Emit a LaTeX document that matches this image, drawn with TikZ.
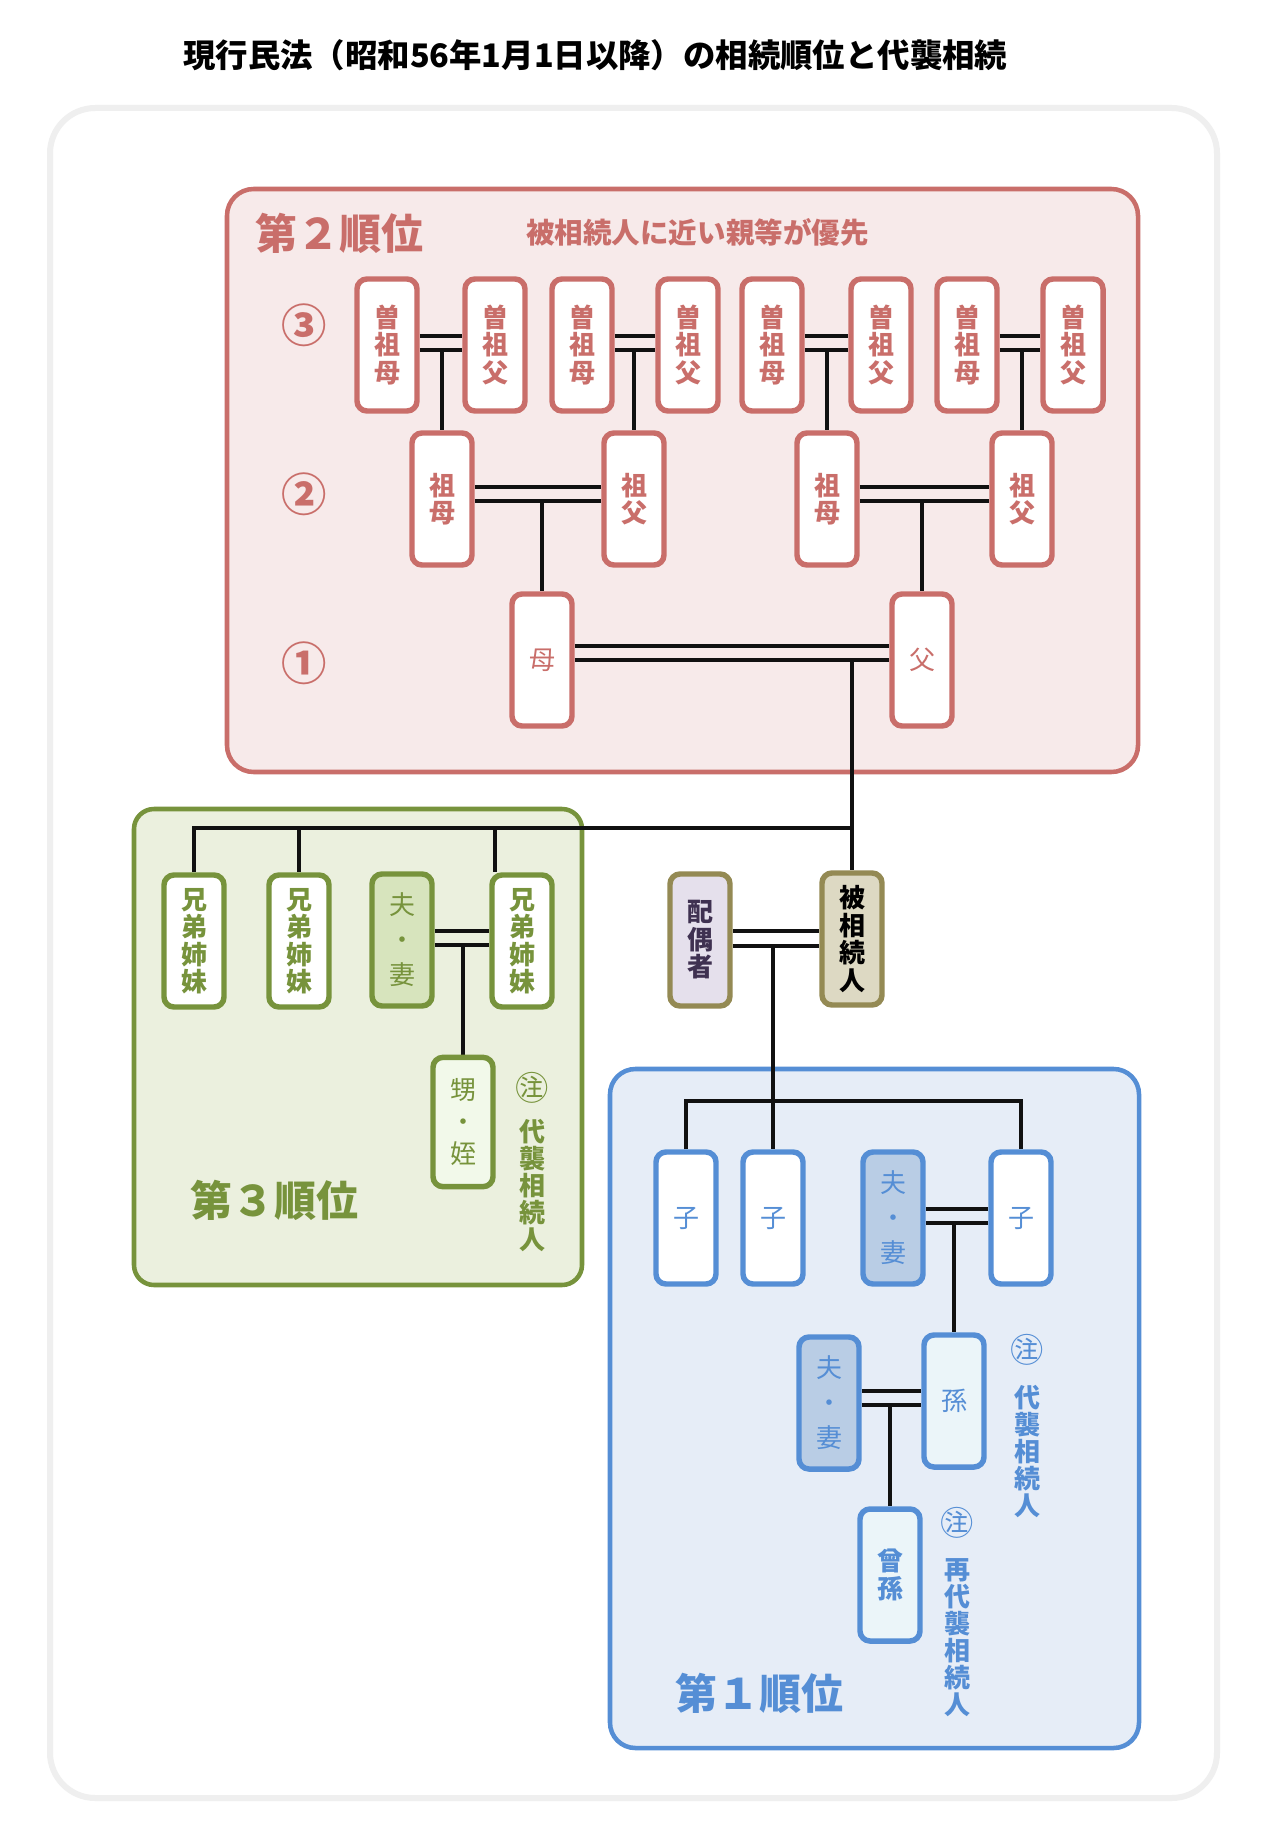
\documentclass[tikz,border=0pt]{standalone}
\usepackage{fontspec}
\setmainfont{Noto Sans CJK JP}
\usetikzlibrary{calc}
\definecolor{rc}{HTML}{C96E6A}
\definecolor{rfill}{HTML}{F7EAEA}
\definecolor{gc}{HTML}{77933C}
\definecolor{gfill}{HTML}{EBF0DE}
\definecolor{gsp}{HTML}{D7E4BD}
\definecolor{gnn}{HTML}{F2F9EA}
\definecolor{bc}{HTML}{558ED5}
\definecolor{bfill}{HTML}{E6EDF7}
\definecolor{bsp}{HTML}{B9CDE5}
\definecolor{bgc}{HTML}{EBF5F9}
\definecolor{kc}{HTML}{948A54}
\definecolor{kfill}{HTML}{DDD9C3}
\definecolor{pfill}{HTML}{E5E0EC}
\definecolor{ptext}{HTML}{3F3151}
\definecolor{outergray}{HTML}{EFEFEF}
\definecolor{ln}{HTML}{111111}
\pgfdeclarelayer{background}
\pgfdeclarelayer{links}
\pgfsetlayers{background,links,main}
\newcommand\marrylines[4]{%
  \draw[link] (#1.east |- 0,#3) -- (#2.west |- 0,#3);
  \draw[link] (#1.east |- 0,#4) -- (#2.west |- 0,#4);}
\begin{document}
\begin{tikzpicture}[x=0.75pt,y=-0.75pt,
  box/.style={draw, rounded corners=7.5pt, line width=4.1pt, minimum width=45pt,
    minimum height=99pt, inner sep=0pt, align=center, fill=white},
  tb/.style={font=\bfseries\fontsize{19.5pt}{20.6pt}\selectfont},
  tr/.style={font=\fontsize{19.5pt}{20.6pt}\selectfont},
  tsp/.style={font=\fontsize{19.5pt}{26.25pt}\selectfont},
  redbox/.style={box, draw=rc, text=rc, tb},
  greenbox/.style={box, draw=gc, text=gc},
  bluebox/.style={box, draw=bc, text=bc},
  link/.style={draw=ln, line width=2.6pt},
  panel/.style={line width=3.4pt},
  biglabel/.style={font=\bfseries\fontsize{31.5pt}{33pt}\selectfont, anchor=west, inner sep=0pt},
  circnum/.style={font=\bfseries\fontsize{34pt}{36pt}\selectfont, text=rc, inner sep=0pt},
  notemark/.style={font=\fontsize{25pt}{26pt}\selectfont, inner sep=0pt},
  vnote/.style={font=\bfseries\fontsize{19.5pt}{20.25pt}\selectfont, align=center, inner sep=0pt},
]
\useasboundingbox (0,0) rectangle (1260,1844);

\begin{pgfonlayer}{background}
\fill[white] (0,0) rectangle (1260,1844);
\draw[outergray, line width=4.5pt, rounded corners=34pt] (50,108) rectangle (1217,1798);
\draw[panel, draw=rc, fill=rfill, rounded corners=20pt] (227,189) rectangle (1138,772);
\draw[panel, draw=gc, fill=gfill, rounded corners=15pt] (134,809) rectangle (582,1285);
\draw[panel, draw=bc, fill=bfill, rounded corners=19pt] (610,1069) rectangle (1139,1748);
\end{pgfonlayer}

% title
\node[font=\bfseries\fontsize{24.3pt}{25pt}\selectfont, anchor=west, inner sep=0pt] (title) at (183,55)
  {現行民法（昭和56年1月1日以降）の相続順位と代襲相続};

% second order panel
\node[biglabel, text=rc] (lab2) at (255,233) {第２順位};
\node[font=\bfseries\fontsize{21.4pt}{22pt}\selectfont, text=rc, anchor=west, inner sep=0pt] (note2) at (526,232) {被相続人に近い親等が優先};
\node[circnum] (c3) at (304,325) {③};
\node[circnum] (c2) at (304,494) {②};
\node[circnum] (c1) at (304,663) {①};

\node[redbox] (r3a) at (387,345) {曽\\祖\\母};
\node[redbox] (r3b) at (495,345) {曽\\祖\\父};
\node[redbox] (r3c) at (582,345) {曽\\祖\\母};
\node[redbox] (r3d) at (688,345) {曽\\祖\\父};
\node[redbox] (r3e) at (772,345) {曽\\祖\\母};
\node[redbox] (r3f) at (881,345) {曽\\祖\\父};
\node[redbox] (r3g) at (967,345) {曽\\祖\\母};
\node[redbox] (r3h) at (1073,345) {曽\\祖\\父};

\node[redbox] (r2a) at (442,499) {祖\\母};
\node[redbox] (r2b) at (634,499) {祖\\父};
\node[redbox] (r2c) at (827,499) {祖\\母};
\node[redbox] (r2d) at (1022,499) {祖\\父};

\node[redbox, tr] (r1a) at (542,660) {母};
\node[redbox, tr] (r1b) at (922,660) {父};

% decedent and spouse
\node[box, draw=kc, fill=kfill, text=black, tb] (hi) at (852,939) {被\\相\\続\\人};
\node[box, draw=kc, fill=pfill, text=ptext, tb] (hs) at (700,940) {配\\偶\\者};

% third order panel
\node[greenbox, tb] (s1) at (194,941) {兄\\弟\\姉\\妹};
\node[greenbox, tb] (s2) at (299,941) {兄\\弟\\姉\\妹};
\node[greenbox, fill=gsp, tsp] (gw) at (402,940) {夫\\・\\妻};
\node[greenbox, tb] (s3) at (522,941) {兄\\弟\\姉\\妹};
\node[greenbox, fill=gnn, font=\fontsize{19.5pt}{23.8pt}\selectfont, minimum height=97pt] (nn) at (463,1122) {甥\\・\\姪};
\node[biglabel, text=gc] (lab3) at (190,1200) {第３順位};
\node[notemark, text=gc] (n3) at (532,1088) {㊟};
\node[vnote, text=gc] (t3) at (532,1186) {代\\襲\\相\\続\\人};

% first order panel
\node[bluebox, tr] (k1) at (686,1218) {子};
\node[bluebox, tr] (k2) at (773,1218) {子};
\node[bluebox, fill=bsp, tsp] (bw1) at (893,1218) {夫\\・\\妻};
\node[bluebox, tr] (k3) at (1021,1218) {子};
\node[bluebox, fill=bsp, tsp] (bw2) at (829,1403) {夫\\・\\妻};
\node[bluebox, fill=bgc, tr] (mago) at (954,1401) {孫};
\node[bluebox, fill=bgc, tb] (himago) at (890,1575) {曾\\孫};
\node[biglabel, text=bc] (lab1) at (675,1693) {第１順位};
\node[notemark, text=bc] (n1a) at (1027,1350) {㊟};
\node[vnote, text=bc] (t1a) at (1027,1451) {代\\襲\\相\\続\\人};
\node[notemark, text=bc] (n1b) at (957,1523) {㊟};
\node[vnote, text=bc] (t1b) at (957,1638) {再\\代\\襲\\相\\続\\人};

\begin{pgfonlayer}{links}
% great-grandparents
\marrylines{r3a}{r3b}{336}{350}
\marrylines{r3c}{r3d}{336}{350}
\marrylines{r3e}{r3f}{336}{350}
\marrylines{r3g}{r3h}{336}{350}
\draw[link] (r2a.north |- 0,350) -- (r2a.north);
\draw[link] (r2b.north |- 0,350) -- (r2b.north);
\draw[link] (r2c.north |- 0,350) -- (r2c.north);
\draw[link] (r2d.north |- 0,350) -- (r2d.north);
% grandparents
\marrylines{r2a}{r2b}{487}{501}
\marrylines{r2c}{r2d}{487}{501}
\draw[link] (r1a.north |- 0,501) -- (r1a.north);
\draw[link] (r1b.north |- 0,501) -- (r1b.north);
% parents
\marrylines{r1a}{r1b}{646}{660}
\draw[link] (hi.north |- 0,660) -- (hi.north);
% siblings
\coordinate (s3top) at ($(s3.north)+(-27,0)$);
\draw[link] (s1.north) -- (s1.north |- 0,828) -- (hi.north |- 0,828);
\draw[link] (s2.north |- 0,828) -- (s2.north);
\draw[link] (s3top |- 0,828) -- (s3top);
\marrylines{gw}{s3}{931}{945}
\draw[link] (nn.north |- 0,945) -- (nn.north);
% spouse and children
\marrylines{hs}{hi}{931}{946}
\draw[link] (k2.north |- 0,946) -- (k2.north);
\draw[link] (k1.north) -- (k1.north |- 0,1101) -- (k3.north |- 0,1101) -- (k3.north);
\marrylines{bw1}{k3}{1209}{1223}
\draw[link] (mago.north |- 0,1223) -- (mago.north);
\marrylines{bw2}{mago}{1391}{1405}
\draw[link] (himago.north |- 0,1405) -- (himago.north);
\end{pgfonlayer}
\end{tikzpicture}
\end{document}
